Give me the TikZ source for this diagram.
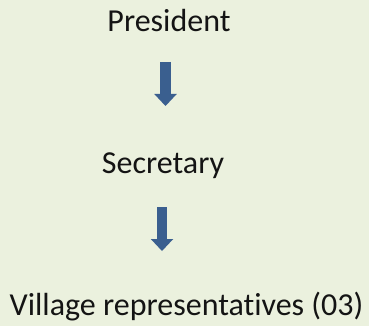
\documentclass[tikz,border=0pt]{standalone}
\usepackage{fontspec}
\setmainfont[Ligatures=NoCommon]{Carlito}
\usetikzlibrary{arrows.meta}
\definecolor{panelgreen}{HTML}{EBF1DE}
\definecolor{arrowblue}{HTML}{3A5F8F}
\begin{document}
\begin{tikzpicture}[x=1pt,y=-1pt,
  label/.style={inner sep=0pt, anchor=base, font=\fontsize{32pt}{38pt}\selectfont, text=black!92},
  blockarrow/.style={draw=arrowblue, line width=10.5pt, line cap=butt,
    -{Triangle[width=22.5pt,length=12pt,line width=0pt]}}]
  % background panel
  \fill[panelgreen] (0,0) rectangle (369,326);
  \useasboundingbox (0,0) rectangle (369,326);
  % hierarchy labels
  \node[label] (pres) at (169,32) {President};
  \node[label] (sec) at (163,173) {Secretary};
  \node[label] (vill) at (186.5,315) {Village representatives (03)};
  % arrow end points
  \coordinate (a1s) at (165.5,62);
  \coordinate (a1e) at (165.5,106);
  \coordinate (a2s) at (162,207);
  \coordinate (a2e) at (162,251);
  % downward block arrows
  \draw[blockarrow] (a1s) -- (a1e);
  \draw[blockarrow] (a2s) -- (a2e);
\end{tikzpicture}
\end{document}
